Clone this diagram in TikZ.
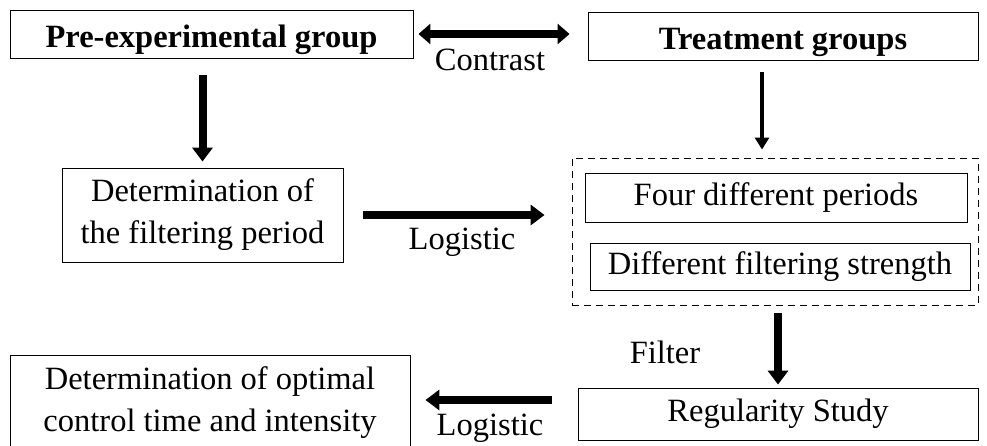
\documentclass[tikz,border=0pt]{standalone}
\usepackage{fontspec}
\setmainfont{Liberation Serif}
\usetikzlibrary{arrows.meta}

\begin{document}
\begin{tikzpicture}[x=1pt,y=-1pt,
        box/.style={draw,line width=0.9pt,inner sep=0pt,align=center,
            font=\fontsize{32.5}{42}\selectfont},
        head/.style={box,minimum height=48pt,text height=28pt,text depth=0pt,
            font=\fontsize{32.5}{42}\selectfont\bfseries},
        lbl/.style={font=\fontsize{32.5}{42}\selectfont},
        fat/.style={line width=8pt,-{Triangle[length=14pt,width=20pt]}},
        slim/.style={line width=4.5pt,-{Triangle[length=12pt,width=14pt]}}]
            \useasboundingbox (0,0) rectangle (987,446);
            \node[head,minimum width=403pt] (pre) at (211.5,34) {Pre-experimental group};
            \node[head,minimum width=390pt] (treat) at (783,36) {Treatment groups};
            \node[box,minimum width=281pt,minimum height=94pt] (period) at (202.5,215) {Determination of\\the filtering period};
            \node[draw,dash pattern=on 7pt off 5pt,line width=0.9pt,minimum width=406pt,minimum height=147pt] (grp) at (775,231.5) {};
            \node[box,minimum width=382pt,minimum height=49pt] (four) at (776,197.5) {Four different periods};
            \node[box,minimum width=380pt,minimum height=47pt] (strength) at (780,266.5) {Different filtering strength};
            \node[box,minimum width=400pt,minimum height=52pt] (regular) at (778,414) {Regularity Study};
            \node[box,minimum width=400pt,minimum height=96pt] (optimal) at (210,403) {Determination of optimal\\control time and intensity};
            \draw[line width=8pt,{Triangle[length=12pt,width=20pt]}-{Triangle[length=12pt,width=20pt]},shorten <=5pt,shorten >=18pt] (pre.east) -- (treat.west |- pre.east);
            \node[lbl] (contrast) at (490,60) {Contrast};
            \draw[fat,shorten <=17pt,shorten >=6pt] (period.north |- pre.south) -- (period.north);
            \draw[slim,shorten <=12pt,shorten >=8pt] ([xshift=-21pt]treat.south) -- ([xshift=-21pt]treat.south |- grp.north);
            \draw[fat,shorten <=20pt,shorten >=27pt] (period.east) -- (grp.west |- period.east);
            \node[lbl] (logistic) at (462,242) {Logistic};
            \draw[fat,shorten <=8pt,shorten >=3pt] (grp.south -| regular.north) -- (regular.north);
            \node[lbl] (filter) at (665,352) {Filter};
            \draw[fat,shorten <=26pt,shorten >=15pt] ([yshift=14pt]regular.west) -- ([yshift=14pt]regular.west -| optimal.east);
            \node[lbl] (logistic2) at (490,428) {Logistic};
        \end{tikzpicture}
\end{document}
